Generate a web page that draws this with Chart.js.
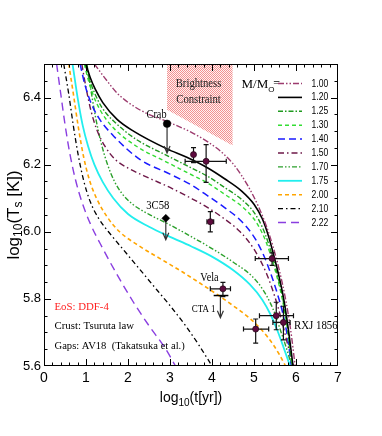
<!DOCTYPE html>
<html>
<head>
<meta charset="utf-8">
<script src="https://cdn.jsdelivr.net/npm/chart.js@4"></script>
<style>
  html, body { margin: 0; padding: 0; background: #fff; }
  canvas { display: block; }
</style>
</head>
<body>
<canvas id="coolingChart" width="382" height="436"></canvas>
<script>
// cooling curves: [log10(t[yr]), log10(Ts [K])] for each mass
const masses = ["1.00", "1.20", "1.25", "1.30", "1.40", "1.50", "1.70", "1.75", "2.00", "2.10", "2.22"];

const m100 = [[1.2,6.5],[1.5,6.45],[1.75,6.412],[2.3,6.362],[3.0,6.325],[3.5,6.297],[3.9,6.268],[4.25,6.235],[4.55,6.195],[4.85,6.138],[5.1,6.077],[5.3,6.015],[5.45,5.957],[5.6,5.887],[5.75,5.8],[5.87,5.71],[5.98,5.6]];
const m120 = [[1.0,6.5],[1.1,6.46],[1.22,6.425],[1.4,6.385],[1.74,6.335],[2.13,6.3],[2.93,6.247],[3.4,6.222],[3.9,6.19],[4.3,6.158],[4.7,6.122],[5.0,6.082],[5.2,6.038],[5.35,5.985],[5.47,5.93],[5.6,5.865],[5.7,5.805],[5.8,5.725],[5.93,5.6]];
const m125 = [[0.98,6.5],[1.08,6.455],[1.2,6.415],[1.38,6.37],[1.7,6.325],[2.2,6.275],[2.93,6.227],[3.4,6.197],[3.9,6.165],[4.3,6.132],[4.7,6.097],[5.0,6.058],[5.2,6.013],[5.35,5.963],[5.47,5.912],[5.6,5.85],[5.7,5.792],[5.8,5.712],[5.91,5.6]];
const m130 = [[0.96,6.5],[1.06,6.45],[1.18,6.405],[1.35,6.36],[1.65,6.31],[2.2,6.255],[2.93,6.207],[3.4,6.177],[3.9,6.145],[4.3,6.112],[4.7,6.077],[5.0,6.038],[5.2,5.995],[5.35,5.948],[5.47,5.9],[5.6,5.84],[5.7,5.783],[5.8,5.705],[5.9,5.6]];
const m140 = [[0.86,6.5],[0.97,6.44],[1.1,6.39],[1.3,6.34],[1.66,6.285],[2.29,6.215],[3.0,6.172],[3.5,6.14],[3.9,6.107],[4.3,6.072],[4.67,6.035],[5.0,5.985],[5.23,5.93],[5.4,5.875],[5.55,5.818],[5.68,5.76],[5.8,5.685],[5.89,5.6]];
const m150 = [[0.9,6.5],[1.0,6.43],[1.12,6.36],[1.27,6.3],[1.45,6.255],[1.7,6.215],[2.0,6.19],[2.5,6.16],[3.0,6.132],[3.5,6.1],[3.9,6.072],[4.2,6.047],[4.67,6.0],[5.0,5.948],[5.3,5.875],[5.5,5.805],[5.65,5.74],[5.8,5.665],[5.94,5.6]];
const m170 = [[1.02,6.5],[1.12,6.42],[1.23,6.34],[1.35,6.27],[1.5,6.205],[1.67,6.152],[1.85,6.115],[2.1,6.083],[2.5,6.052],[2.93,6.025],[3.4,5.993],[4.0,5.95],[4.5,5.91],[4.95,5.868],[5.2,5.83],[5.38,5.79],[5.5,5.755],[5.62,5.71],[5.75,5.662],[5.9,5.6]];
const m175 = [[0.68,6.5],[0.8,6.4],[0.92,6.318],[1.05,6.255],[1.2,6.2],[1.4,6.148],[1.65,6.1],[2.0,6.053],[2.5,6.015],[3.0,5.985],[3.5,5.957],[4.0,5.926],[4.5,5.886],[4.9,5.843],[5.2,5.797],[5.4,5.752],[5.55,5.708],[5.7,5.657],[5.86,5.6]];
const m200 = [[0.59,6.5],[0.7,6.41],[0.82,6.31],[0.94,6.225],[1.08,6.155],[1.25,6.1],[1.5,6.045],[1.8,6.0],[2.3,5.955],[2.9,5.91],[3.3,5.88],[3.7,5.848],[4.1,5.815],[4.5,5.78],[4.9,5.742],[5.2,5.705],[5.45,5.665],[5.6,5.635],[5.75,5.6]];
const m210 = [[0.47,6.5],[0.59,6.41],[0.7,6.315],[0.82,6.225],[0.95,6.15],[1.1,6.09],[1.3,6.04],[1.6,5.99],[1.9,5.945],[2.3,5.885],[2.7,5.825],[3.0,5.78],[3.4,5.715],[3.7,5.66],[4.0,5.6]];
const m222 = [[0.3,6.5],[0.4,6.41],[0.5,6.32],[0.62,6.23],[0.75,6.155],[0.9,6.09],[1.1,6.025],[1.4,5.95],[1.75,5.87],[2.13,5.79],[2.5,5.72],[2.9,5.65],[3.13,5.6]];

const curves = [m100, m120, m125, m130, m140, m150, m170, m175, m200, m210, m222];

// observed pulsars with error bars
const obsX   = [3.56, 3.86, 3.96, 5.43, 4.26, 5.04, 5.53, 5.70];
const obsY   = [6.23, 6.21, 6.03, 5.92, 5.83, 5.71, 5.75, 5.73];
const obsXLo = [3.56, 3.36, 3.88, 5.03, 3.96, 4.75, 5.13, 5.45];
const obsXHi = [3.56, 4.34, 4.04, 5.82, 4.44, 5.35, 5.94, 5.86];
const obsYLo = [6.206, 6.147, 6.0, 5.90, 5.807, 5.668, 5.708, 5.678];
const obsYHi = [6.251, 6.26, 6.06, 5.937, 5.849, 5.74, 5.79, 5.778];

// upper limits: Crab, 3C58, CTA 1
const limX   = [2.93, 2.90, 4.20];
const limY   = [6.322, 6.04, 5.81];
const limTip = [6.235, 5.976, 5.744];
const limBarLo = [null, null, 4.04];
const limBarHi = [null, null, 4.39];

// brightness constraint region
const brightX = [2.93, 4.49, 4.49, 2.93];
const brightY = [6.5, 6.5, 6.257, 6.364];

const xTicks = [0, 1, 2, 3, 4, 5, 6, 7];
const yTicks = [5.6, 5.8, 6.0, 6.2, 6.4];

const colors = ["#9c3b6e", "#000000", "#1f9a1f", "#33dd33", "#1a1aff", "#6e1848", "#2ca02c", "#22eeee", "#ffa500", "#000000", "#8a3ee0"];
const dashes = [[6,2,1.5,2,1.5,2], [], [5,2,1.5,2], [4,3], [7,4], [6,3,1.5,3], [5,2,1.5,2,1.5,2], [], [4,3], [5,3,1.5,3], [8,5]];
const widths = [1.4, 1.6, 1.4, 1.4, 1.5, 1.4, 1.4, 1.8, 1.6, 1.3, 1.4];

const SERIF = '"Liberation Serif", "Times New Roman", serif';
const SANS = '"Liberation Sans", Arial, sans-serif';

const px = (chart, x, y) => [chart.scales.x.getPixelForValue(x), chart.scales.y.getPixelForValue(y)];

function putText(ctx, s, x, y, font, color, align, sx) {
  ctx.save();
  ctx.translate(x, y);
  ctx.scale(sx || 1, 1);
  ctx.font = font;
  ctx.fillStyle = color;
  ctx.textAlign = align || "center";
  ctx.textBaseline = "middle";
  ctx.fillText(s, 0, 0);
  ctx.restore();
}

// pieces: [text, font, dy]
function putPieces(ctx, pieces, cx, cy, rot) {
  ctx.save();
  ctx.translate(cx, cy);
  if (rot) ctx.rotate(rot);
  ctx.textBaseline = "middle";
  ctx.textAlign = "left";
  ctx.fillStyle = "#000";
  let total = 0;
  pieces.forEach((p) => { ctx.font = p[1]; total += ctx.measureText(p[0]).width; });
  let x = -total / 2;
  pieces.forEach((p) => {
    ctx.font = p[1];
    ctx.fillText(p[0], x, p[2]);
    x += ctx.measureText(p[0]).width;
  });
  ctx.restore();
}

function dotPattern(ctx) {
  const c = document.createElement("canvas");
  c.width = 2; c.height = 2;
  const g = c.getContext("2d");
  g.fillStyle = "rgb(255,242,242)";
  g.fillRect(0, 0, 2, 2);
  g.fillStyle = "rgb(242,145,145)";
  g.fillRect(0, 0, 1, 1);
  g.fillRect(1, 1, 1, 1);
  return ctx.createPattern(c, "repeat");
}

function drawErrors(chart) {
  const ctx = chart.ctx;
  const sx = chart.scales.x, sy = chart.scales.y;
  ctx.save();
  ctx.strokeStyle = "#111";
  ctx.lineWidth = 1.2;
  ctx.setLineDash([]);
  obsX.forEach((x, i) => {
    const [cx, cy] = px(chart, x, obsY[i]);
    const xl = sx.getPixelForValue(obsXLo[i]), xh = sx.getPixelForValue(obsXHi[i]);
    const yl = sy.getPixelForValue(obsYLo[i]), yh = sy.getPixelForValue(obsYHi[i]);
    ctx.beginPath();
    if (xh - xl > 1) {
      ctx.moveTo(xl, cy); ctx.lineTo(xh, cy);
      ctx.moveTo(xl, cy - 2.5); ctx.lineTo(xl, cy + 2.5);
      ctx.moveTo(xh, cy - 2.5); ctx.lineTo(xh, cy + 2.5);
    }
    ctx.moveTo(cx, yl); ctx.lineTo(cx, yh);
    ctx.moveTo(cx - 2.5, yl); ctx.lineTo(cx + 2.5, yl);
    ctx.moveTo(cx - 2.5, yh); ctx.lineTo(cx + 2.5, yh);
    ctx.stroke();
  });
  ctx.restore();
}

function drawArrows(chart) {
  const ctx = chart.ctx;
  const sx = chart.scales.x, sy = chart.scales.y;
  ctx.save();
  ctx.setLineDash([]);
  limX.forEach((x, i) => {
    const [cx, cy] = px(chart, x, limY[i]);
    const ty = sy.getPixelForValue(limTip[i]);
    ctx.strokeStyle = "#333";
    ctx.lineWidth = 1.2;
    ctx.beginPath();
    ctx.moveTo(cx, cy); ctx.lineTo(cx, ty);
    ctx.moveTo(cx - 3, ty - 7); ctx.lineTo(cx, ty); ctx.lineTo(cx + 3, ty - 7);
    ctx.stroke();
    if (limBarLo[i] !== null) {
      ctx.strokeStyle = "#000";
      ctx.lineWidth = 1.5;
      ctx.beginPath();
      ctx.moveTo(sx.getPixelForValue(limBarLo[i]), cy);
      ctx.lineTo(sx.getPixelForValue(limBarHi[i]), cy);
      ctx.stroke();
    }
  });
  ctx.restore();
}

const decor = {
  id: "decor",
  beforeDatasetsDraw(chart) {
    const ctx = chart.ctx;
    ctx.save();
    ctx.beginPath();
    brightX.forEach((x, i) => {
      const [a, b] = px(chart, x, brightY[i]);
      if (i) ctx.lineTo(a, b); else ctx.moveTo(a, b);
    });
    ctx.closePath();
    ctx.fillStyle = dotPattern(ctx);
    ctx.fill();
    ctx.restore();
  },
  beforeDatasetDraw(chart, args) {
    const lbl = chart.data.datasets[args.index].label;
    if (lbl === "obs") drawErrors(chart);
    if (lbl === "limits") drawArrows(chart);
  },
  afterDraw(chart) {
    const ctx = chart.ctx;
    const a = chart.chartArea;
    const sx = chart.scales.x, sy = chart.scales.y;
    ctx.save();
    ctx.setLineDash([]);
    ctx.strokeStyle = "#000";
    ctx.lineWidth = 1;
    ctx.strokeRect(a.left + 0.5, a.top + 0.5, a.right - a.left - 1, a.bottom - a.top - 1);
    // inward ticks
    ctx.beginPath();
    for (let k = 1; k < 18; k++) {
      const y = Math.round(sy.getPixelForValue(5.6 + k * 0.05)) + 0.5;
      const len = k % 4 === 0 ? 7 : 3.5;
      ctx.moveTo(a.left, y); ctx.lineTo(a.left + len, y);
      ctx.moveTo(a.right, y); ctx.lineTo(a.right - len, y);
    }
    for (let k = 1; k < 35; k++) {
      const x = Math.round(sx.getPixelForValue(k * 0.2)) + 0.5;
      const len = k % 5 === 0 ? 7 : 3.5;
      ctx.moveTo(x, a.bottom); ctx.lineTo(x, a.bottom - len);
      ctx.moveTo(x, a.top); ctx.lineTo(x, a.top + len);
    }
    ctx.stroke();

    // annotations
    const at = (x, y) => px(chart, x, y);
    let p;
    p = at(3.68, 6.443); putText(ctx, "Brightness", p[0], p[1], "13px " + SERIF, "#222", "center", 0.82);
    p = at(3.68, 6.394); putText(ctx, "Constraint", p[0], p[1], "13px " + SERIF, "#222", "center", 0.82);
    p = at(2.68, 6.349); putText(ctx, "Crab", p[0], p[1], "12.5px " + SERIF, "#000", "center", 0.82);
    p = at(2.71, 6.078); putText(ctx, "3C58", p[0], p[1], "12.5px " + SERIF, "#000", "center", 0.85);
    p = at(3.94, 5.862); putText(ctx, "Vela", p[0], p[1], "12.5px " + SERIF, "#000", "center", 0.82);
    p = at(3.80, 5.770); putText(ctx, "CTA 1", p[0], p[1], "10.5px " + SERIF, "#000", "center", 0.85);
    p = at(5.95, 5.720); putText(ctx, "RXJ 1856", p[0], p[1], "12.5px " + SERIF, "#000", "left", 0.87);
    p = at(0.25, 5.776); putText(ctx, "EoS: DDF-4", p[0], p[1], "10.8px " + SERIF, "#ff2020", "left", 1);
    p = at(0.25, 5.718); putText(ctx, "Crust: Tsuruta law", p[0], p[1], "10.8px " + SERIF, "#000", "left", 1);
    p = at(0.25, 5.658); putText(ctx, "Gaps: AV18  (Takatsuka et al.)", p[0], p[1], "10.6px " + SERIF, "#000", "left", 1);

    // legend
    const lx0 = 278, lx1 = 302, lt = 311.5;
    ctx.font = "13px " + SERIF;
    const mw = ctx.measureText("M/M").width;
    putText(ctx, "M/M", 241.5, 85, "13px " + SERIF, "#000", "left", 1);
    putText(ctx, "O", 241.5 + mw, 90, "8px " + SANS, "#000", "left", 1);
    putText(ctx, "=", 241.5 + mw + 5, 84, "12px " + SERIF, "#000", "left", 1);
    masses.forEach((m, i) => {
      const y = 83.5 + i * 13.9;
      ctx.strokeStyle = colors[i];
      ctx.lineWidth = widths[i];
      ctx.setLineDash(dashes[i]);
      ctx.beginPath();
      ctx.moveTo(lx0, y); ctx.lineTo(lx1, y);
      ctx.stroke();
      ctx.setLineDash([]);
      putText(ctx, m, lt, y, "11px " + SANS, "#000", "left", 0.78);
    });

    // axis titles
    putPieces(ctx, [["log", "17px " + SANS, 0], ["10", "12px " + SANS, 5], ["(T", "17px " + SANS, 0], ["s", "12px " + SANS, 5], [" [K])", "17px " + SANS, 0]], 14, 215, -Math.PI / 2);
    putPieces(ctx, [["log", "14px " + SANS, 0], ["10", "10px " + SANS, 5], ["(t[yr])", "14px " + SANS, 0]], 191, 398, 0);
    ctx.restore();
  }
};

const datasets = curves.map((c, i) => ({
  label: "M = " + masses[i],
  data: c.map((d) => ({ x: d[0], y: d[1] })),
  showLine: true,
  borderColor: colors[i],
  backgroundColor: colors[i],
  borderWidth: widths[i],
  borderDash: dashes[i],
  pointRadius: 0,
  fill: false,
  cubicInterpolationMode: "monotone",
  order: 2
}));

datasets.push({
  label: "obs",
  data: obsX.map((x, i) => ({ x: x, y: obsY[i] })),
  pointStyle: "circle",
  pointRadius: 3,
  backgroundColor: "#5e0b3f",
  borderColor: "#2b0a1c",
  borderWidth: 0.8,
  order: 0
});

datasets.push({
  label: "limits",
  data: limX.map((x, i) => ({ x: x, y: limY[i] })),
  pointStyle: ["circle", "rectRot", "circle"],
  pointRadius: [3.8, 4, 0],
  backgroundColor: "#000",
  borderColor: "#000",
  borderWidth: 0.5,
  order: 1
});

new Chart(document.getElementById("coolingChart"), {
  type: "scatter",
  data: { datasets: datasets },
  options: {
    responsive: false,
    animation: false,
    layout: { padding: { left: 0, right: 44, top: 64, bottom: 40 } },
    plugins: { legend: { display: false }, tooltip: { enabled: false } },
    scales: {
      x: {
        type: "linear",
        min: 0,
        max: 7,
        afterBuildTicks: (s) => { s.ticks = xTicks.map((v) => ({ value: v })); },
        afterFit: (s) => { s.height = 30; },
        ticks: {
          autoSkip: false,
          maxRotation: 0,
          padding: 4,
          color: "#000",
          font: { family: SANS, size: 14 },
          callback: (v) => String(v)
        },
        grid: { display: false, drawTicks: false },
        border: { display: false }
      },
      y: {
        type: "linear",
        min: 5.6,
        max: 6.5,
        afterBuildTicks: (s) => { s.ticks = yTicks.map((v) => ({ value: v })); },
        afterFit: (s) => { s.width = 44; },
        ticks: {
          autoSkip: false,
          padding: 3,
          color: "#000",
          font: { family: SANS, size: 13 },
          callback: (v) => Number(v).toFixed(1)
        },
        grid: { display: false, drawTicks: false },
        border: { display: false }
      }
    }
  },
  plugins: [decor]
});
</script>
</body>
</html>
